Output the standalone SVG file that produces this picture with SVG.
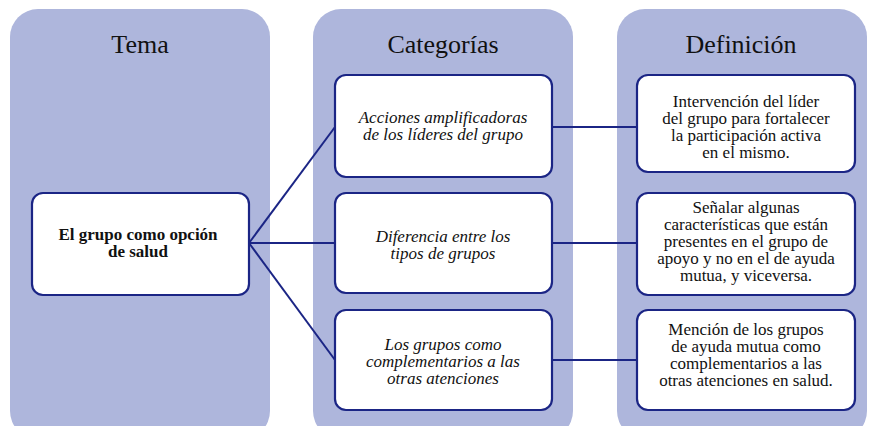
<svg xmlns="http://www.w3.org/2000/svg" width="869" height="426" viewBox="0 0 869 426">
<style>
.col{fill:#aeb6dc}
.box{fill:#ffffff;stroke:#1b2585;stroke-width:2.2}
.conn{stroke:#1b2585;stroke-width:2;fill:none}
text{fill:#111;text-anchor:middle}
.hdr{font-size:26px}
.cat{font-size:17px;font-style:italic}
.def{font-size:17px}
.tema{font-size:17px;font-weight:bold}
</style>
<rect width="869" height="426" fill="#ffffff"/>
<g font-family="Liberation Serif, Times New Roman, serif">
<g id="col-tema"><rect class="col" x="10" y="9" width="260" height="430" rx="28"/><text class="hdr" x="140" y="53">Tema</text></g>
<g id="col-categorias"><rect class="col" x="313" y="9" width="260" height="430" rx="28"/><text class="hdr" x="443" y="53">Categorías</text></g>
<g id="col-definicion"><rect class="col" x="617" y="9" width="250" height="430" rx="28"/><text class="hdr" x="741" y="53">Definición</text></g>
<g id="connectors">
<line class="conn" x1="249" y1="243" x2="335" y2="127"/>
<line class="conn" x1="249" y1="243" x2="335" y2="243"/>
<line class="conn" x1="249" y1="243" x2="335" y2="360"/>
<line class="conn" x1="552" y1="127" x2="637" y2="127"/>
<line class="conn" x1="552" y1="243" x2="637" y2="243"/>
<line class="conn" x1="552" y1="360" x2="637" y2="360"/>
</g>
<g id="tema"><rect class="box" x="32" y="193" width="217" height="102" rx="11"/>
<text class="tema" x="138" y="240">El grupo como opción</text><text class="tema" x="138" y="257">de salud</text></g>
<g id="cat1"><rect class="box" x="335" y="75" width="217" height="102" rx="11"/>
<text class="cat" x="443" y="123">Acciones amplificadoras</text><text class="cat" x="443" y="140">de los líderes del grupo</text></g>
<g id="cat2"><rect class="box" x="335" y="193" width="217" height="100" rx="11"/>
<text class="cat" x="443" y="242">Diferencia entre los</text><text class="cat" x="443" y="259">tipos de grupos</text></g>
<g id="cat3"><rect class="box" x="335" y="310" width="217" height="100" rx="11"/>
<text class="cat" x="443" y="350">Los grupos como</text><text class="cat" x="443" y="367">complementarios a las</text><text class="cat" x="443" y="384">otras atenciones</text></g>
<g id="def1"><rect class="box" x="637" y="75" width="218" height="97" rx="11"/>
<text class="def" x="746" y="107">Intervención del líder</text><text class="def" x="746" y="124">del grupo para fortalecer</text><text class="def" x="746" y="141">la participación activa</text><text class="def" x="746" y="158">en el mismo.</text></g>
<g id="def2"><rect class="box" x="637" y="193" width="218" height="102" rx="11"/>
<text class="def" x="746" y="213">Señalar algunas</text><text class="def" x="746" y="230">características que están</text><text class="def" x="746" y="247">presentes en el grupo de</text><text class="def" x="746" y="264">apoyo y no en el de ayuda</text><text class="def" x="746" y="281">mutua, y viceversa.</text></g>
<g id="def3"><rect class="box" x="637" y="310" width="218" height="100" rx="11"/>
<text class="def" x="746" y="335">Mención de los grupos</text><text class="def" x="746" y="352">de ayuda mutua como</text><text class="def" x="746" y="369">complementarios a las</text><text class="def" x="746" y="386">otras atenciones en salud.</text></g>
</g>
</svg>
